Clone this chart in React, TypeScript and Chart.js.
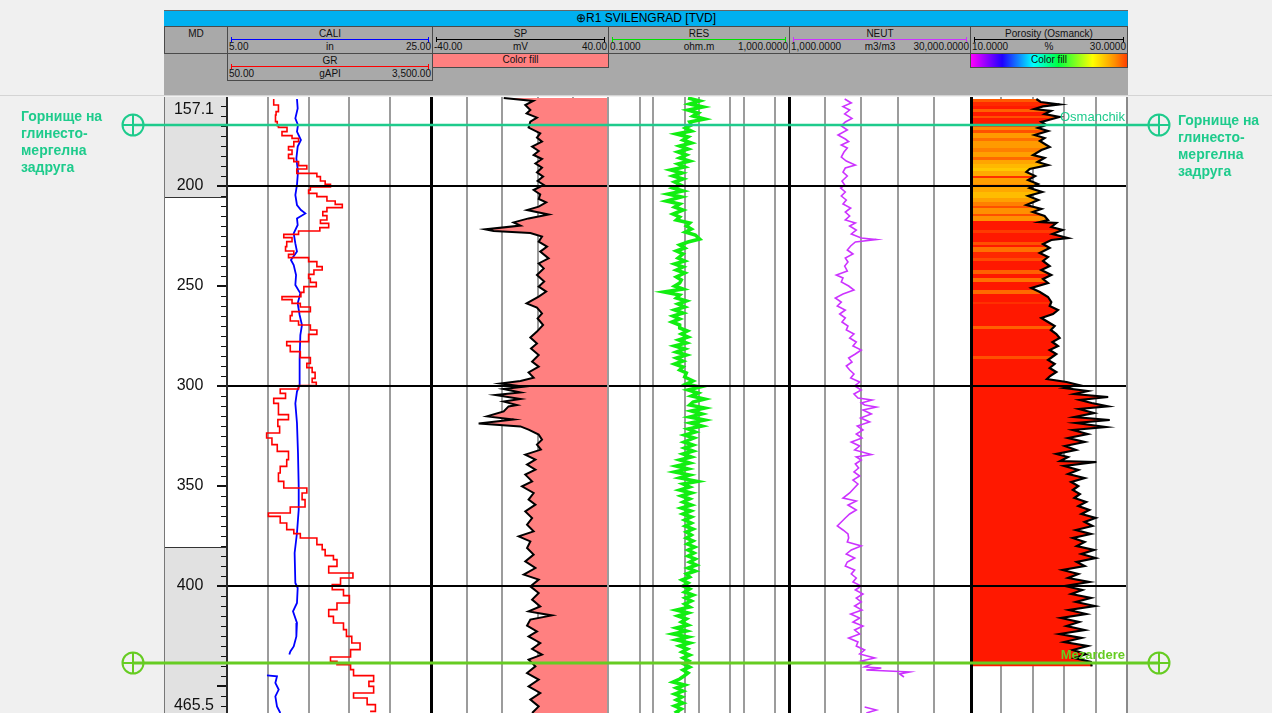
import React, { useEffect, useRef } from 'react';
import { Chart, registerables } from 'chart.js';

Chart.register(...registerables);

const FONT = "'Liberation Sans', Arial, Helvetica, sans-serif";

// ---------------- depth window ----------------
const DEPTH_TOP = 155.5;
const DEPTH_BOTTOM = 465.5;
const depthLabelTicks = [200, 250, 300, 350, 400];
const depthGridLines = [200, 300, 400];
const depthMinorStep = 5;
const depthWindowLabels = ['157.1', '465.5'];
const mdShadedZones: [number, number][] = [[155.5, 205.5], [380.5, 465.5]];

// ---------------- header texts ----------------
const wellTitle = '⊕R1 SVILENGRAD [TVD]';
const headerTitles = ['CALI', 'GR', 'SP', 'RES', 'NEUT', 'Porosity (Osmanck)'];
const headerUnits = ['in', 'gAPI', 'mV', 'ohm.m', 'm3/m3', '%'];
const headerLo = ['5.00', '50.00', '-40.00', '0.1000', '1,000.0000', '10.0000'];
const headerHi = ['25.00', '3,500.00', '40.00', '1,000.0000', '30,000.0000', '30.0000'];
const fillLabel = 'Color fill';

// ---------------- scale ranges ----------------
const caliRange = [5, 25];
const grRange = [50, 3500];
const spRange = [-40, 40];
const resRange = [0.1, 1000];
const neutRange = [1000, 30000];
const porRange = [10, 30];

// grid lines (values)
const caliGrid = [9, 13, 17, 21];
const spGrid = [-24, -8, 8, 24];
const resGrid = [0.5, 1, 5, 10, 50, 100, 500];
const neutGrid = [6800, 12600, 18400, 24200];
const porGrid = [14, 18, 22, 26];

// ---------------- curves [depth, value] ----------------
const caliCurve: [number, number | null][] = [
  [156.5, 11.86], [161.2, 11.93], [166.2, 11.7], [169.5, 11.96], [172.8, 11.86], [177.0, 12.25], [180.3, 11.93],
  [186.2, 11.8], [192.8, 11.96], [199.5, 11.86], [204.5, 11.7], [209.5, 11.86], [212.0, 12.25], [213.7, 12.68],
  [216.2, 11.86], [219.5, 11.93], [223.7, 11.54], [228.7, 11.7], [232.8, 11.86], [237.0, 11.27], [239.5, 11.54],
  [244.5, 11.77], [249.5, 11.7], [253.7, 12.19], [258.7, 11.93], [264.5, 12.12], [269.5, 12.35], [274.5, 12.19],
  [286.2, 12.12], [299.5, 12.12], [302.8, 11.86], [308.7, 11.7], [318.5, 11.86], [333.5, 11.96], [350.2, 12.03],
  [361.8, 12.03], [373.5, 11.86], [383.5, 11.63], [398.5, 11.7], [401.0, 11.93], [408.5, 11.86], [412.7, 11.47],
  [418.5, 11.86], [425.2, 11.8], [430.2, 11.54], [432.7, 11.21], [434.3, 11.11], [439.0, null], [444.7, 8.92],
  [445.2, 9.9], [448.5, 9.74], [451.8, 10.07], [455.2, 9.74], [460.2, 9.9], [463.5, 10.23],
];

const grCurve: [number, number][] = [
  [156.5, 840], [159.5, 920], [162.8, 880], [164.5, 870], [167.8, 900], [169.8, 920], [170.7, 1065], [172.8, 980],
  [174.8, 1150], [176.2, 1260], [177.8, 1180], [180.3, 1090], [182.0, 1150], [184.2, 1090], [186.2, 1180],
  [187.8, 1260], [189.8, 1400], [191.5, 1230], [193.7, 1570], [195.3, 1630], [197.5, 1710], [199.2, 1800],
  [200.5, 1460], [202.0, 1430], [203.7, 1570], [205.3, 1740], [207.5, 1880], [209.2, 2000], [210.8, 1740],
  [212.8, 1670], [214.8, 1740], [217.0, 1630], [218.7, 1770], [220.8, 1620], [222.5, 1260], [224.2, 1010],
  [225.8, 1150], [227.8, 1060], [230.3, 1040], [232.5, 1180], [234.2, 1090], [235.8, 1430], [237.8, 1570],
  [240.3, 1660], [242.0, 1520], [244.2, 1430], [246.2, 1460], [248.2, 1560], [250.3, 1350], [253.2, 1300],
  [255.3, 980], [256.8, 1150], [258.7, 1290], [260.5, 1460], [262.8, 1150], [264.8, 1120], [267.5, 1260],
  [269.5, 1460], [272.0, 1570], [274.2, 1430], [277.8, 1060], [279.8, 1120], [282.8, 1290], [285.8, 1460],
  [288.7, 1400], [290.8, 1490], [293.2, 1540], [296.2, 1490], [298.2, 1560], [299.8, 1260], [301.5, 950],
  [303.7, 1040], [306.2, 840], [308.7, 920], [311.0, 920], [314.3, 1090], [316.8, 910], [320.2, 940], [323.5, 720],
  [326.0, 810], [329.3, 900], [332.7, 1090], [336.8, 1060], [340.2, 950], [343.5, 920], [347.7, 1010], [351.0, 1400],
  [353.5, 1320], [356.8, 1370], [360.5, 1120], [363.5, 750], [365.2, 950], [368.5, 1060], [371.8, 1180],
  [373.8, 1290], [376.0, 1570], [379.3, 1660], [381.8, 1710], [384.8, 1850], [386.8, 1910], [390.2, 1770],
  [393.5, 2180], [396.0, 1970], [399.3, 1830], [401.8, 2020], [404.8, 2120], [408.5, 1910], [411.8, 1770],
  [415.2, 1850], [418.5, 2020], [421.8, 2070], [425.2, 2160], [428.5, 2300], [431.8, 2140], [435.5, 1800],
  [437.7, 1910], [439.3, 2140], [441.8, 2190], [444.8, 2530], [447.7, 2450], [450.2, 2530], [453.5, 2190],
  [456.0, 2420], [459.3, 2560], [462.7, 2470],
];

const spCurve: [number, number][] = [
  [156.0, -7.4], [157.5, 6.0], [159.5, 2.4], [162.0, 4.7], [163.7, 3.0], [165.8, 7.7], [167.8, 4.7], [170.8, 3.9],
  [173.7, 9.2], [175.8, 7.7], [177.8, 10.0], [180.3, 5.5], [182.5, 8.5], [184.5, 6.2], [186.5, 10.0], [188.7, 7.0],
  [190.8, 10.0], [193.2, 7.7], [195.3, 10.5], [197.5, 8.0], [199.5, 10.8], [202.0, 6.2], [204.2, 9.2], [206.5, 8.5],
  [208.2, 11.9], [210.3, 8.5], [212.0, 3.2], [214.2, 13.0], [216.2, 3.9], [218.2, -2.9], [219.8, 0.2], [221.7, -15.8],
  [222.5, -12.0], [223.5, 4.7], [225.3, 10.0], [227.8, 8.5], [230.3, 12.3], [232.8, 9.2], [236.2, 13.0], [238.7, 8.5],
  [241.2, 10.8], [244.5, 7.7], [247.8, 11.0], [250.3, 8.5], [252.8, 11.9], [255.3, 8.5], [258.7, 3.0], [260.8, 7.7],
  [263.7, 10.0], [266.2, 8.0], [269.5, 10.5], [272.8, 7.7], [275.8, 4.7], [278.7, 7.7], [281.2, 5.0], [284.5, 8.5],
  [287.8, 5.5], [290.3, 8.5], [293.2, 3.9], [295.8, 6.2], [297.5, 0.2], [298.8, -8.9], [300.3, 1.7], [301.5, -7.4],
  [303.2, 0.2], [304.5, -11.2], [306.5, 0.2], [307.8, -7.4], [309.5, -1.4], [310.2, -5.2], [312.7, -7.4],
  [315.2, -15.0], [316.8, -2.9], [318.8, -18.8], [320.2, 0.2], [321.8, 3.9], [324.3, 8.5], [326.8, 10.0],
  [329.3, 7.7], [331.8, 9.5], [334.3, 2.4], [336.8, 7.0], [339.3, 3.2], [341.8, 7.0], [344.3, 2.4], [347.7, 5.5],
  [350.2, 0.9], [353.5, 6.2], [356.8, 3.9], [359.3, 7.0], [362.7, 2.4], [366.0, 5.5], [369.3, 3.2], [372.7, 6.2],
  [375.2, -0.6], [377.7, 4.7], [381.0, 3.2], [384.3, 6.2], [387.7, 2.4], [391.0, 7.0], [394.3, 1.7], [396.8, 8.5],
  [400.2, 4.7], [403.5, 8.5], [406.8, 5.5], [410.2, 9.2], [412.7, 3.9], [414.7, 14.5], [416.8, 4.7], [419.8, 3.2],
  [422.7, 7.7], [425.2, 3.9], [428.5, 9.2], [431.5, 5.5], [434.3, 10.0], [436.8, 3.9], [440.2, 7.0], [443.5, 3.2],
  [446.8, 8.5], [450.2, 3.9], [453.5, 9.2], [456.8, 4.7], [460.2, 8.5], [463.5, 5.5],
];

const resCurve: [number, number][] = [
  [156.0, 5.86], [157.5, 10.6], [159.0, 6.38], [160.5, 12.6], [162.0, 5.86], [163.5, 9.75], [165.0, 7.56],
  [166.5, 13.7], [168.0, 6.38], [169.5, 6.95], [171.0, 5.12], [172.5, 6.95], [174.0, 3.24], [175.5, 5.86],
  [177.0, 4.55], [178.5, 6.95], [180.0, 3.84], [181.5, 5.86], [183.0, 3.52], [184.5, 5.39], [186.0, 3.84],
  [187.5, 6.38], [189.0, 3.52], [190.5, 4.95], [192.0, 2.43], [193.5, 4.33], [195.0, 2.73], [196.5, 4.55],
  [198.0, 2.97], [199.5, 4.04], [201.0, 2.73], [202.5, 4.55], [204.0, 2.12], [205.5, 4.18], [207.5, 1.95],
  [209.0, 3.84], [210.5, 2.97], [212.0, 4.55], [214.0, 2.73], [215.5, 3.84], [217.0, 3.24], [218.5, 6.38],
  [220.0, 5.39], [221.5, 6.95], [223.0, 5.12], [224.5, 8.51], [226.5, 10.6], [228.0, 5.86], [229.5, 3.84],
  [231.0, 4.95], [232.5, 3.24], [234.0, 4.55], [236.0, 3.52], [237.5, 4.95], [239.0, 2.97], [240.5, 4.55],
  [242.0, 3.24], [243.5, 4.95], [245.5, 3.24], [247.0, 4.18], [248.5, 3.84], [250.0, 2.97], [251.5, 4.55],
  [253.0, 1.73], [254.5, 3.84], [256.0, 3.24], [257.5, 5.39], [259.0, 3.52], [260.5, 4.95], [262.0, 2.97],
  [263.5, 4.55], [265.0, 2.73], [266.5, 3.84], [268.0, 2.6], [269.5, 3.84], [271.0, 3.84], [272.5, 5.67],
  [274.0, 4.18], [275.5, 5.86], [277.0, 3.65], [278.5, 5.39], [280.0, 2.97], [281.5, 4.95], [283.0, 3.24],
  [284.5, 5.39], [286.0, 3.24], [287.5, 4.55], [289.0, 2.97], [290.5, 4.55], [292.0, 3.84], [293.5, 5.39],
  [295.5, 4.95], [297.5, 7.56], [299.0, 5.39], [300.5, 10.6], [302.0, 5.86], [303.5, 9.75], [305.0, 6.95],
  [306.5, 13.7], [308.0, 7.56], [309.5, 6.38], [311.0, 13.7], [312.5, 6.95], [314.0, 11.9], [315.5, 6.38],
  [317.0, 13.7], [318.5, 6.71], [320.0, 11.9], [321.5, 5.86], [323.0, 8.51], [324.5, 4.95], [326.0, 7.96],
  [328.0, 4.79], [329.5, 7.56], [331.0, 4.95], [332.5, 7.56], [334.0, 4.55], [335.5, 6.95], [337.0, 3.84],
  [338.5, 6.38], [340.0, 3.24], [341.5, 5.86], [343.0, 2.97], [344.5, 6.38], [346.0, 3.84], [347.7, 9.42],
  [349.0, 4.55], [350.5, 6.38], [352.0, 3.84], [353.5, 6.95], [355.0, 4.18], [356.5, 6.38], [358.0, 4.55],
  [359.5, 6.95], [361.0, 4.18], [362.5, 6.71], [364.0, 4.55], [365.5, 6.95], [367.0, 4.95], [368.5, 6.95],
  [370.0, 5.12], [371.5, 7.56], [373.0, 5.39], [374.5, 6.95], [376.0, 5.39], [377.5, 7.56], [379.0, 5.67],
  [380.5, 8.23], [382.0, 5.86], [383.5, 7.96], [385.0, 5.86], [386.5, 8.51], [388.0, 6.38], [389.5, 8.96],
  [391.0, 5.86], [392.5, 8.51], [394.0, 5.39], [395.5, 6.38], [397.0, 4.33], [398.5, 5.86], [400.0, 4.55],
  [401.5, 6.38], [403.0, 4.95], [404.5, 7.56], [406.0, 5.12], [407.5, 6.95], [409.0, 4.95], [410.5, 6.38],
  [412.0, 3.24], [413.5, 5.86], [415.0, 3.52], [416.5, 5.39], [418.0, 4.18], [419.5, 5.86], [421.0, 3.24],
  [422.5, 5.39], [424.0, 2.73], [425.5, 5.86], [427.0, 3.24], [428.5, 6.38], [430.0, 3.84], [431.5, 5.67],
  [433.0, 4.33], [434.5, 6.38], [436.0, 4.55], [437.5, 6.06], [439.0, 4.79], [440.5, 6.38], [442.0, 4.55],
  [443.5, 5.86], [445.0, 4.79], [446.5, 3.84], [448.0, 2.73], [449.5, 4.95], [451.0, 3.24], [452.5, 4.55],
  [454.0, 2.97], [455.5, 4.33], [457.0, 3.24], [458.5, 4.55], [460.0, 2.97], [461.5, 4.18], [463.0, 3.24],
  [464.5, 3.84],
];

const neutCurve: [number, number | null][] = [
  [156.5, 9920], [158.5, 10980], [160.3, 9650], [162.0, 10720], [164.0, 9920], [166.2, 11090], [168.0, 10020],
  [170.0, 9380], [172.0, 10340], [174.5, 8850], [176.5, 10020], [177.8, 10560], [179.5, 9380], [181.0, 10340],
  [183.0, 9810], [185.5, 9380], [187.5, 10180], [189.5, 11630], [191.0, 10020], [193.0, 9650], [195.0, 10340],
  [197.5, 9490], [199.5, 9920], [201.0, 9280], [203.0, 10020], [205.0, 9380], [207.0, 10180], [209.0, 9650],
  [211.0, 10880], [213.0, 10020], [215.0, 10720], [217.0, 10020], [218.5, 11630], [220.0, 10720], [222.0, 11780],
  [224.0, 10980], [226.0, 12580], [226.8, 14990], [228.0, 11630], [230.0, 10880], [232.0, 10340], [234.0, 11250],
  [236.0, 10020], [238.0, 10450], [240.0, 9920], [242.5, 10340], [244.5, 8580], [246.0, 9650], [248.0, 9380],
  [250.0, 10560], [252.0, 11410], [254.0, 9650], [256.0, 8420], [258.0, 9380], [260.0, 8740], [262.0, 10020],
  [264.0, 9120], [266.0, 10020], [268.0, 9490], [270.0, 10450], [272.0, 10180], [274.0, 11410], [276.0, 10720],
  [278.0, 11780], [280.0, 11250], [282.0, 12580], [284.0, 11630], [286.0, 10560], [288.0, 11090], [290.0, 10180],
  [292.0, 10720], [294.0, 11410], [296.0, 10880], [298.0, 12320], [300.0, 11520], [302.0, 12580], [304.0, 11410],
  [306.0, 12050], [307.0, 14300], [308.5, 12580], [309.5, 13120], [310.5, 14990], [312.0, 12850], [314.0, 14190],
  [316.0, 12480], [318.0, 13920], [320.0, 11940], [322.0, 12850], [324.0, 11780], [326.0, 12690], [328.0, 10980],
  [330.0, 12320], [332.0, 11520], [334.3, 14190], [335.5, 11780], [337.0, 12580], [339.0, 11630], [341.0, 12160],
  [343.0, 11410], [345.0, 12320], [347.0, 11250], [349.0, 12050], [353.5, 10720], [356.0, 9650], [357.5, 11780],
  [359.5, 10450], [362.0, 11780], [364.0, 10720], [366.0, 10020], [368.0, 9380], [370.0, 8740], [372.0, 9650],
  [374.0, 10450], [376.0, 10560], [378.0, 10340], [380.0, 12580], [382.0, 10980], [384.0, 10180], [386.0, 11520],
  [388.0, 10340], [390.0, 10020], [392.0, 11520], [394.0, 10980], [396.0, 11780], [398.0, 11250], [400.0, 12580],
  [402.0, 11630], [404.0, 12850], [406.0, 11780], [408.0, 12580], [410.0, 11520], [412.0, 12690], [414.0, 10880],
  [416.0, 12320], [418.0, 11250], [420.0, 12850], [422.0, 11520], [424.0, 12320], [426.0, 10560], [428.0, 12050],
  [430.0, 11780], [432.0, 13120], [434.0, 12320], [436.0, 14730], [437.5, 12580], [439.0, 14190], [440.5, 13120],
  [441.0, 15790], [442.0, 13390], [443.0, 20330], [444.0, 18730], [445.5, 19420], [446.0, null], [460.5, 13120],
  [462.0, 14990], [463.5, 13390],
];

const porCurve: [number, number][] = [
  [156.5, 18.45], [158.0, 19.0], [159.2, 21.4], [160.2, 19.3], [161.5, 18.2], [162.5, 20.3], [164.0, 19.5],
  [165.5, 21.4], [167.0, 20.0], [168.0, 19.09], [169.5, 19.7], [171.0, 18.66], [172.5, 19.94], [174.5, 18.24],
  [176.0, 19.5], [177.5, 18.9], [180.5, 20.15], [182.0, 19.1], [184.5, 18.03], [186.0, 19.5], [188.0, 18.6],
  [189.5, 19.94], [191.5, 17.6], [193.0, 17.18], [195.0, 18.3], [197.0, 17.4], [199.0, 18.66], [201.0, 17.6],
  [203.0, 19.2], [205.0, 17.4], [207.0, 18.7], [209.5, 17.18], [211.5, 19.09], [213.0, 18.0], [215.0, 19.5],
  [217.0, 19.94], [218.0, 18.88], [218.5, 21.0], [220.5, 20.36], [222.0, 21.8], [224.0, 20.5], [226.0, 22.48],
  [227.0, 20.36], [229.0, 19.3], [231.0, 20.15], [233.5, 18.88], [235.5, 19.94], [237.5, 19.3], [240.0, 20.15],
  [242.0, 19.09], [244.5, 20.36], [246.5, 19.3], [248.5, 19.94], [251.0, 17.81], [253.0, 18.9], [255.5, 19.94],
  [258.0, 20.36], [260.0, 20.15], [262.0, 21.21], [264.0, 20.57], [266.0, 19.09], [268.0, 19.94], [270.0, 20.79],
  [272.0, 20.3], [274.0, 21.0], [276.0, 21.42], [278.0, 20.5], [280.0, 21.21], [282.0, 20.15], [284.0, 21.0],
  [287.0, 19.94], [289.0, 20.79], [291.0, 20.15], [293.0, 21.0], [295.0, 20.2], [296.5, 19.8], [298.0, 22.3],
  [299.5, 23.8], [301.0, 22.0], [302.5, 25.0], [304.0, 23.3], [305.5, 27.6], [307.0, 24.0], [308.5, 25.5],
  [310.2, 27.58], [311.5, 23.9], [313.5, 25.8], [315.5, 23.3], [317.0, 27.8], [318.5, 23.5], [320.5, 27.3],
  [322.0, 23.1], [324.0, 25.0], [326.0, 22.5], [328.0, 24.6], [330.0, 22.1], [332.0, 23.5], [334.0, 21.0],
  [335.5, 22.48], [337.5, 21.5], [338.0, 26.1], [340.0, 22.0], [342.0, 23.8], [344.0, 22.5], [346.0, 24.6],
  [348.0, 22.9], [350.0, 23.8], [352.0, 23.1], [354.0, 24.0], [356.0, 23.3], [358.0, 24.8], [360.0, 23.8],
  [362.0, 25.2], [364.0, 24.2], [366.0, 26.0], [368.0, 24.6], [370.0, 25.6], [372.0, 23.5], [374.0, 25.4],
  [376.0, 23.1], [378.0, 24.6], [380.0, 23.6], [382.0, 25.8], [384.0, 24.2], [386.0, 26.0], [388.0, 23.6],
  [390.0, 24.6], [392.0, 21.8], [394.0, 23.8], [396.0, 22.5], [398.0, 25.2], [400.0, 22.1], [402.0, 24.3],
  [404.0, 22.9], [406.0, 25.4], [408.0, 23.5], [410.0, 25.9], [412.0, 22.6], [414.0, 24.8], [416.0, 21.6],
  [418.0, 23.9], [420.0, 22.3], [422.0, 24.6], [424.0, 21.4], [426.0, 24.2], [428.0, 22.0], [430.0, 25.0],
  [432.0, 23.1], [434.0, 24.8], [436.0, 23.3], [438.0, 25.4], [440.2, 25.5],
];

// porosity colour-fill cells: [top depth, colour]
const porBands: [number, string][] = [
  [155.5, '#ff5a00'], [158.0, '#ff2a00'], [160.0, '#ff1a00'], [161.5, '#ff6000'], [163.0, '#ff1a00'],
  [165.0, '#ff5000'], [166.0, '#ff1a00'], [169.0, '#ff4000'], [170.5, '#ff8c00'], [172.0, '#ff5000'],
  [173.5, '#ff9a00'], [176.0, '#ff7000'], [177.5, '#ff9a00'], [181.0, '#ff8000'], [183.0, '#ffa000'],
  [185.5, '#ff6a00'], [187.0, '#ffa500'], [189.0, '#ffb800'], [191.0, '#ffc800'], [192.5, '#ffaa00'],
  [195.0, '#ff3000'], [196.0, '#ffa000'], [199.0, '#ff8c00'], [200.5, '#ffa800'], [203.0, '#ffbc00'],
  [206.0, '#ffa000'], [208.0, '#ff8000'], [210.0, '#ff5000'], [211.0, '#ff9000'], [214.0, '#ff5000'],
  [215.0, '#ff9000'], [217.5, '#ff1800'], [222.0, '#ff3a00'], [223.5, '#ff1800'], [228.0, '#ff5000'],
  [229.5, '#ff1800'], [230.5, '#ff7000'], [233.0, '#ff2800'], [236.0, '#ff4a00'], [237.5, '#ff1800'],
  [242.0, '#ff6000'], [244.0, '#ff1800'], [246.0, '#ff7000'], [248.0, '#ff1800'], [252.0, '#ff6a00'],
  [254.0, '#ff1800'], [258.0, '#ff3000'], [259.0, '#ff1800'], [270.0, '#ff6000'], [271.5, '#ff1800'],
  [285.0, '#ff5000'], [286.5, '#ff1800'],
];

// formation tops
const topDepths = [169.5, 438.5];
const topTrackLabels = ['Osmanchik', 'Mezardere'];
const topSideLabels = [['Горнище на', 'глинесто-', 'мергелна', 'задруга'], [] as string[]];
const topColors = ['#1ecb8c', '#66cc22'];

// ---------------- layout (pixels) ----------------
const PAGE_W = 1272;
const PLOT_TOP = 97;
const PLOT_H = 620;
const OVERLAY_H = 720;
const TOP_MARK_X = [133, 1159];

const GRID = '#9c9c9c';

function pts(curve: [number, number | null][]) {
  return curve.map(([d, v]) => ({ x: v, y: d }));
}

function baseOptions(xScales: Record<string, any>) {
  return {
    animation: false,
    responsive: false,
    indexAxis: 'y',
    events: [],
    layout: { padding: 0, autoPadding: false },
    plugins: { legend: { display: false }, tooltip: { enabled: false } },
    elements: { point: { radius: 0 }, line: { tension: 0 } },
    scales: {
      ...xScales,
      y: { type: 'linear', min: DEPTH_TOP, max: DEPTH_BOTTOM, reverse: true, display: false },
    },
  };
}

function gridPlugin(scaleId: string, values: number[]) {
  return {
    id: 'trackGrid',
    beforeDatasetsDraw(chart: any) {
      const { ctx, chartArea: a } = chart;
      const xs = chart.scales[scaleId];
      ctx.save();
      ctx.strokeStyle = GRID;
      ctx.lineWidth = 2;
      values.forEach((v) => {
        const x = Math.round(xs.getPixelForValue(v));
        ctx.beginPath();
        ctx.moveTo(x, a.top);
        ctx.lineTo(x, a.bottom);
        ctx.stroke();
      });
      ctx.restore();
    },
    afterDatasetsDraw(chart: any) {
      const { ctx, chartArea: a } = chart;
      const ys = chart.scales.y;
      ctx.save();
      ctx.strokeStyle = '#000';
      ctx.lineWidth = 2;
      depthGridLines.forEach((d) => {
        const y = Math.round(ys.getPixelForValue(d));
        ctx.beginPath();
        ctx.moveTo(a.left, y);
        ctx.lineTo(a.right, y);
        ctx.stroke();
      });
      ctx.restore();
    },
  };
}

const mdPlugin = {
  id: 'mdTrack',
  beforeDatasetsDraw(chart: any) {
    const { ctx, chartArea: a } = chart;
    const ys = chart.scales.y;
    ctx.save();
    ctx.fillStyle = '#e1e1e1';
    mdShadedZones.forEach(([d0, d1]) => {
      const y0 = ys.getPixelForValue(d0);
      const y1 = ys.getPixelForValue(d1);
      ctx.fillRect(a.left, y0, a.right - a.left, y1 - y0);
    });
    ctx.strokeStyle = '#333';
    ctx.lineWidth = 1;
    mdShadedZones.forEach((zone) =>
      zone.forEach((d) => {
        if (d > DEPTH_TOP && d < DEPTH_BOTTOM) {
          const y = Math.round(ys.getPixelForValue(d)) + 0.5;
          ctx.beginPath();
          ctx.moveTo(a.left, y);
          ctx.lineTo(a.right, y);
          ctx.stroke();
        }
      })
    );
    ctx.strokeStyle = '#111';
    for (let d = Math.ceil(DEPTH_TOP / depthMinorStep) * depthMinorStep; d <= DEPTH_BOTTOM; d += depthMinorStep) {
      const major = d % 50 === 0;
      const y = Math.round(ys.getPixelForValue(d)) + (major ? 0 : 0.5);
      ctx.lineWidth = major ? 2 : 1;
      ctx.beginPath();
      ctx.moveTo(a.right - (major ? 10 : 6), y);
      ctx.lineTo(a.right, y);
      ctx.stroke();
    }
    ctx.fillStyle = '#111';
    ctx.font = `16px ${FONT}`;
    ctx.textAlign = 'center';
    ctx.textBaseline = 'middle';
    depthLabelTicks.forEach((d) => ctx.fillText(String(d), a.left + 25, ys.getPixelForValue(d)));
    ctx.textAlign = 'right';
    ctx.fillText(depthWindowLabels[0], a.left + 49, a.top + 13);
    ctx.fillText(depthWindowLabels[1], a.left + 49, a.bottom - 11);
    ctx.restore();
  },
};

function porosityFill(context: any) {
  const chart = context.chart;
  const a = chart.chartArea;
  const ys = chart.scales && chart.scales.y;
  if (!a || !ys) return porBands[porBands.length - 1][1];
  const h = a.bottom - a.top;
  const g = chart.ctx.createLinearGradient(0, a.top, 0, a.bottom);
  const clamp = (t: number) => Math.min(1, Math.max(0, t));
  porBands.forEach(([d, c], i) => {
    const next = i + 1 < porBands.length ? porBands[i + 1][0] : DEPTH_BOTTOM;
    const t0 = clamp((ys.getPixelForValue(d) - a.top) / h);
    const t1 = clamp((ys.getPixelForValue(next) - a.top) / h);
    g.addColorStop(t0, c);
    g.addColorStop(Math.max(t0, t1 - 0.0005), c);
  });
  return g;
}

const topsPlugin = {
  id: 'topsLabels',
  afterDatasetsDraw(chart: any) {
    const { ctx } = chart;
    const ys = chart.scales.y;
    ctx.save();
    ctx.textBaseline = 'middle';
    topDepths.forEach((d, i) => {
      const y = ys.getPixelForValue(d);
      ctx.fillStyle = topColors[i];
      ctx.font = `${i === 0 ? 'normal' : 'bold'} 13px ${FONT}`;
      ctx.textAlign = 'right';
      ctx.fillText(topTrackLabels[i], 1125, y - 8);
      ctx.font = `bold 14px ${FONT}`;
      ctx.textAlign = 'left';
      topSideLabels[i].forEach((t, k) => {
        ctx.fillText(t, 21, y - 8 + k * 17);
        ctx.fillText(t, 1178, y - 4 + k * 17);
      });
    });
    ctx.restore();
  },
};

function ChartCanvas({ left, top, width, height, make }: { left: number; top: number; width: number; height: number; make: () => any }) {
  const ref = useRef<HTMLCanvasElement | null>(null);
  useEffect(() => {
    const chart = new Chart(ref.current as HTMLCanvasElement, make());
    return () => chart.destroy();
  }, []);
  return <canvas ref={ref} width={width} height={height} style={{ position: 'absolute', left, top, width, height }} />;
}

const makeMd = () => ({
  type: 'line',
  data: { datasets: [] },
  options: baseOptions({ x: { type: 'linear', min: 0, max: 1, display: false } }),
  plugins: [mdPlugin],
});

const makeCali = () => ({
  type: 'line',
  data: {
    datasets: [
      { data: pts(grCurve), xAxisID: 'xGR', borderColor: '#ff0000', borderWidth: 1.6, stepped: 'after', fill: false },
      { data: pts(caliCurve), xAxisID: 'x', borderColor: '#0000ff', borderWidth: 1.8, fill: false },
    ],
  },
  options: baseOptions({
    x: { type: 'linear', min: caliRange[0], max: caliRange[1], display: false },
    xGR: { type: 'linear', axis: 'x', min: grRange[0], max: grRange[1], display: false },
  }),
  plugins: [gridPlugin('x', caliGrid)],
});

const makeSp = () => ({
  type: 'line',
  data: {
    datasets: [
      { data: pts(spCurve), borderColor: '#000', borderWidth: 2, fill: { value: spRange[1] }, backgroundColor: '#ff8080' },
    ],
  },
  options: baseOptions({ x: { type: 'linear', min: spRange[0], max: spRange[1], display: false } }),
  plugins: [gridPlugin('x', spGrid)],
});

const makeRes = () => ({
  type: 'line',
  data: { datasets: [{ data: pts(resCurve), borderColor: '#11ee11', borderWidth: 3.5, fill: false }] },
  options: baseOptions({ x: { type: 'logarithmic', min: resRange[0], max: resRange[1], display: false } }),
  plugins: [gridPlugin('x', resGrid)],
});

const makeNeut = () => ({
  type: 'line',
  data: { datasets: [{ data: pts(neutCurve), borderColor: '#cc33ff', borderWidth: 1.6, fill: false }] },
  options: baseOptions({ x: { type: 'linear', min: neutRange[0], max: neutRange[1], display: false } }),
  plugins: [gridPlugin('x', neutGrid)],
});

const makePor = () => ({
  type: 'line',
  data: {
    datasets: [
      { data: pts(porCurve), borderColor: '#000', borderWidth: 2.2, fill: { value: porRange[0] }, backgroundColor: porosityFill },
    ],
  },
  options: baseOptions({ x: { type: 'linear', min: porRange[0], max: porRange[1], display: false } }),
  plugins: [gridPlugin('x', porGrid)],
});

const makeOverlay = () => ({
  type: 'scatter',
  data: {
    datasets: topDepths.flatMap((d, i) => {
      const p = TOP_MARK_X.map((x) => ({ x, y: d }));
      return [
        {
          data: p, showLine: true, borderColor: topColors[i], borderWidth: i === 0 ? 2.5 : 3,
          pointStyle: 'circle', pointRadius: 10.5, pointBorderWidth: 2,
          pointBorderColor: topColors[i], pointBackgroundColor: 'rgba(0,0,0,0)',
        },
        {
          data: p, showLine: false, pointStyle: 'cross', pointRadius: 10.5, pointBorderWidth: 2,
          pointBorderColor: topColors[i], borderColor: topColors[i],
        },
      ];
    }),
  },
  options: {
    animation: false,
    responsive: false,
    events: [],
    layout: { autoPadding: false, padding: { top: PLOT_TOP, bottom: OVERLAY_H - PLOT_TOP - PLOT_H, left: 0, right: 0 } },
    plugins: { legend: { display: false }, tooltip: { enabled: false } },
    scales: {
      x: { type: 'linear', min: 0, max: PAGE_W, display: false },
      y: { type: 'linear', min: DEPTH_TOP, max: DEPTH_BOTTOM, reverse: true, display: false },
    },
  },
  plugins: [topsPlugin],
});

const hdrText: React.CSSProperties = { font: `10px ${FONT}`, color: '#111', lineHeight: '12px', whiteSpace: 'nowrap' };

function ScaleBox({ i, left, top, width, color }: { i: number; left: number; top: number; width: number; color: string }) {
  return (
    <div style={{ position: 'absolute', left, top, width, height: 28, border: '1px solid #4a4a4a', boxSizing: 'border-box', ...hdrText }}>
      <div style={{ position: 'absolute', left: 0, right: 0, top: 1, textAlign: 'center' }}>{headerTitles[i]}</div>
      <div style={{ position: 'absolute', left: 3, right: 3, top: 12, height: 1, background: color }} />
      <div style={{ position: 'absolute', left: 3, top: 10, width: 1, height: 5, background: color }} />
      <div style={{ position: 'absolute', right: 3, top: 10, width: 1, height: 5, background: color }} />
      <div style={{ position: 'absolute', left: 1, top: 14 }}>{headerLo[i]}</div>
      <div style={{ position: 'absolute', left: 0, right: 0, top: 14, textAlign: 'center' }}>{headerUnits[i]}</div>
      <div style={{ position: 'absolute', right: 1, top: 14 }}>{headerHi[i]}</div>
    </div>
  );
}

const headerBoxes = [
  { i: 0, left: 227, top: 26, width: 206, color: '#0000ff' },
  { i: 1, left: 227, top: 53, width: 206, color: '#ff0000' },
  { i: 2, left: 432, top: 26, width: 177, color: '#000000' },
  { i: 3, left: 608, top: 26, width: 182, color: '#00e000' },
  { i: 4, left: 789, top: 26, width: 182, color: '#cc33ff' },
  { i: 5, left: 970, top: 26, width: 158, color: '#000000' },
];

const borders = [
  { left: 164, width: 1, color: '#777' },
  { left: 226, width: 2, color: '#2a2a2a' },
  { left: 430, width: 3, color: '#000' },
  { left: 607, width: 2, color: GRID },
  { left: 788, width: 3, color: '#000' },
  { left: 970, width: 3, color: '#000' },
  { left: 1126, width: 2, color: '#8a8a8a' },
];

export default function App() {
  return (
    <div style={{ position: 'fixed', left: 0, top: 0, width: PAGE_W, height: 713, overflow: 'hidden', background: '#f0f0f0', fontFamily: FONT }}>
      {/* header */}
      <div style={{ position: 'absolute', left: 164, top: 10, width: 964, height: 85, background: '#a9a9a9', borderTop: '1px solid #666', boxSizing: 'border-box' }} />
      <div style={{ position: 'absolute', left: 164, top: 11, width: 964, height: 16, background: '#00b0f0', borderBottom: '1px solid #444', boxSizing: 'border-box', textAlign: 'center', font: `12px ${FONT}`, lineHeight: '15px', color: '#000' }}>
        {wellTitle}
      </div>
      <div style={{ position: 'absolute', left: 164, top: 26, width: 64, height: 28, border: '1px solid #4a4a4a', boxSizing: 'border-box', textAlign: 'center', ...hdrText }}>
        <div style={{ paddingTop: 1 }}>MD</div>
      </div>
      {headerBoxes.map((b) => (
        <ScaleBox key={b.i} {...b} />
      ))}
      <div style={{ position: 'absolute', left: 432, top: 53, width: 177, height: 15, background: '#ff8080', border: '1px solid #4a4a4a', boxSizing: 'border-box', textAlign: 'center', ...hdrText }}>{fillLabel}</div>
      <div style={{ position: 'absolute', left: 970, top: 53, width: 158, height: 15, border: '1px solid #4a4a4a', boxSizing: 'border-box', textAlign: 'center', background: 'linear-gradient(to right, #ff00ff 0%, #2000ff 20%, #00ffff 40%, #00ff40 56%, #ffff00 78%, #ff9000 92%, #ff4000 100%)', ...hdrText }}>{fillLabel}</div>

      {/* plot background */}
      <div style={{ position: 'absolute', left: 0, top: 95, width: PAGE_W, height: 1, background: '#d4d4d4' }} />
      <div style={{ position: 'absolute', left: 164, top: PLOT_TOP, width: 964, height: PLOT_H, background: '#fff' }} />

      <ChartCanvas left={165} top={PLOT_TOP} width={62} height={PLOT_H} make={makeMd} />
      <ChartCanvas left={227} top={PLOT_TOP} width={204} height={PLOT_H} make={makeCali} />
      <ChartCanvas left={432} top={PLOT_TOP} width={176} height={PLOT_H} make={makeSp} />
      <ChartCanvas left={608} top={PLOT_TOP} width={181} height={PLOT_H} make={makeRes} />
      <ChartCanvas left={789} top={PLOT_TOP} width={181} height={PLOT_H} make={makeNeut} />
      <ChartCanvas left={970} top={PLOT_TOP} width={157} height={PLOT_H} make={makePor} />

      {borders.map((b, k) => (
        <div key={k} style={{ position: 'absolute', left: b.left, top: PLOT_TOP, width: b.width, height: PLOT_H, background: b.color }} />
      ))}

      <ChartCanvas left={0} top={0} width={PAGE_W} height={OVERLAY_H} make={makeOverlay} />
    </div>
  );
}
